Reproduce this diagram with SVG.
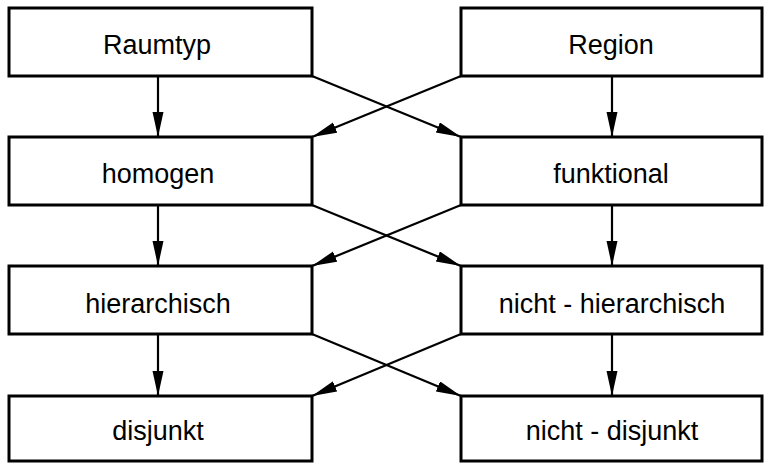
<svg xmlns="http://www.w3.org/2000/svg" width="764" height="463" viewBox="0 0 764 463">
<style>
.box{fill:#fff;stroke:#000;stroke-width:3}
.lbl{font-family:"Liberation Sans",Arial,Helvetica,sans-serif;font-size:27px;fill:#000;text-anchor:middle}
.con{stroke:#000;stroke-width:2.2;fill:none;marker-end:url(#ah)}
</style>
<defs>
<marker id="ah" markerUnits="userSpaceOnUse" markerWidth="26" markerHeight="12" refX="25" refY="5.5" orient="auto">
<path d="M0,0 L25,5.5 L0,11 z" fill="#000"/>
</marker>
</defs>
<rect width="764" height="463" fill="#fff"/>
<g id="connectors">
<line class="con" x1="158" y1="76" x2="158" y2="137"/>
<line class="con" x1="612" y1="76" x2="612" y2="137"/>
<line class="con" x1="312" y1="76" x2="461" y2="137"/>
<line class="con" x1="461" y1="76" x2="312" y2="137"/>
<line class="con" x1="158" y1="205" x2="158" y2="266"/>
<line class="con" x1="612" y1="205" x2="612" y2="266"/>
<line class="con" x1="312" y1="205" x2="461" y2="266"/>
<line class="con" x1="461" y1="205" x2="312" y2="266"/>
<line class="con" x1="158" y1="334" x2="158" y2="396"/>
<line class="con" x1="612" y1="334" x2="612" y2="396"/>
<line class="con" x1="312" y1="334" x2="461" y2="396"/>
<line class="con" x1="461" y1="334" x2="312" y2="396"/>
</g>
<g id="raumtyp"><rect class="box" x="9" y="8" width="303" height="68"/><text class="lbl" x="157" y="54">Raumtyp</text></g>
<g id="region"><rect class="box" x="461" y="8" width="301" height="68"/><text class="lbl" x="611" y="54">Region</text></g>
<g id="homogen"><rect class="box" x="9" y="137" width="303" height="68"/><text class="lbl" x="158" y="183">homogen</text></g>
<g id="funktional"><rect class="box" x="461" y="137" width="301" height="68"/><text class="lbl" x="611" y="183">funktional</text></g>
<g id="hierarchisch"><rect class="box" x="9" y="266" width="303" height="68"/><text class="lbl" x="158" y="313">hierarchisch</text></g>
<g id="nicht-hierarchisch"><rect class="box" x="461" y="266" width="301" height="68"/><text class="lbl" x="612" y="313">nicht - hierarchisch</text></g>
<g id="disjunkt"><rect class="box" x="9" y="396" width="303" height="65"/><text class="lbl" x="158" y="440">disjunkt</text></g>
<g id="nicht-disjunkt"><rect class="box" x="461" y="396" width="301" height="65"/><text class="lbl" x="612" y="440">nicht - disjunkt</text></g>
</svg>
